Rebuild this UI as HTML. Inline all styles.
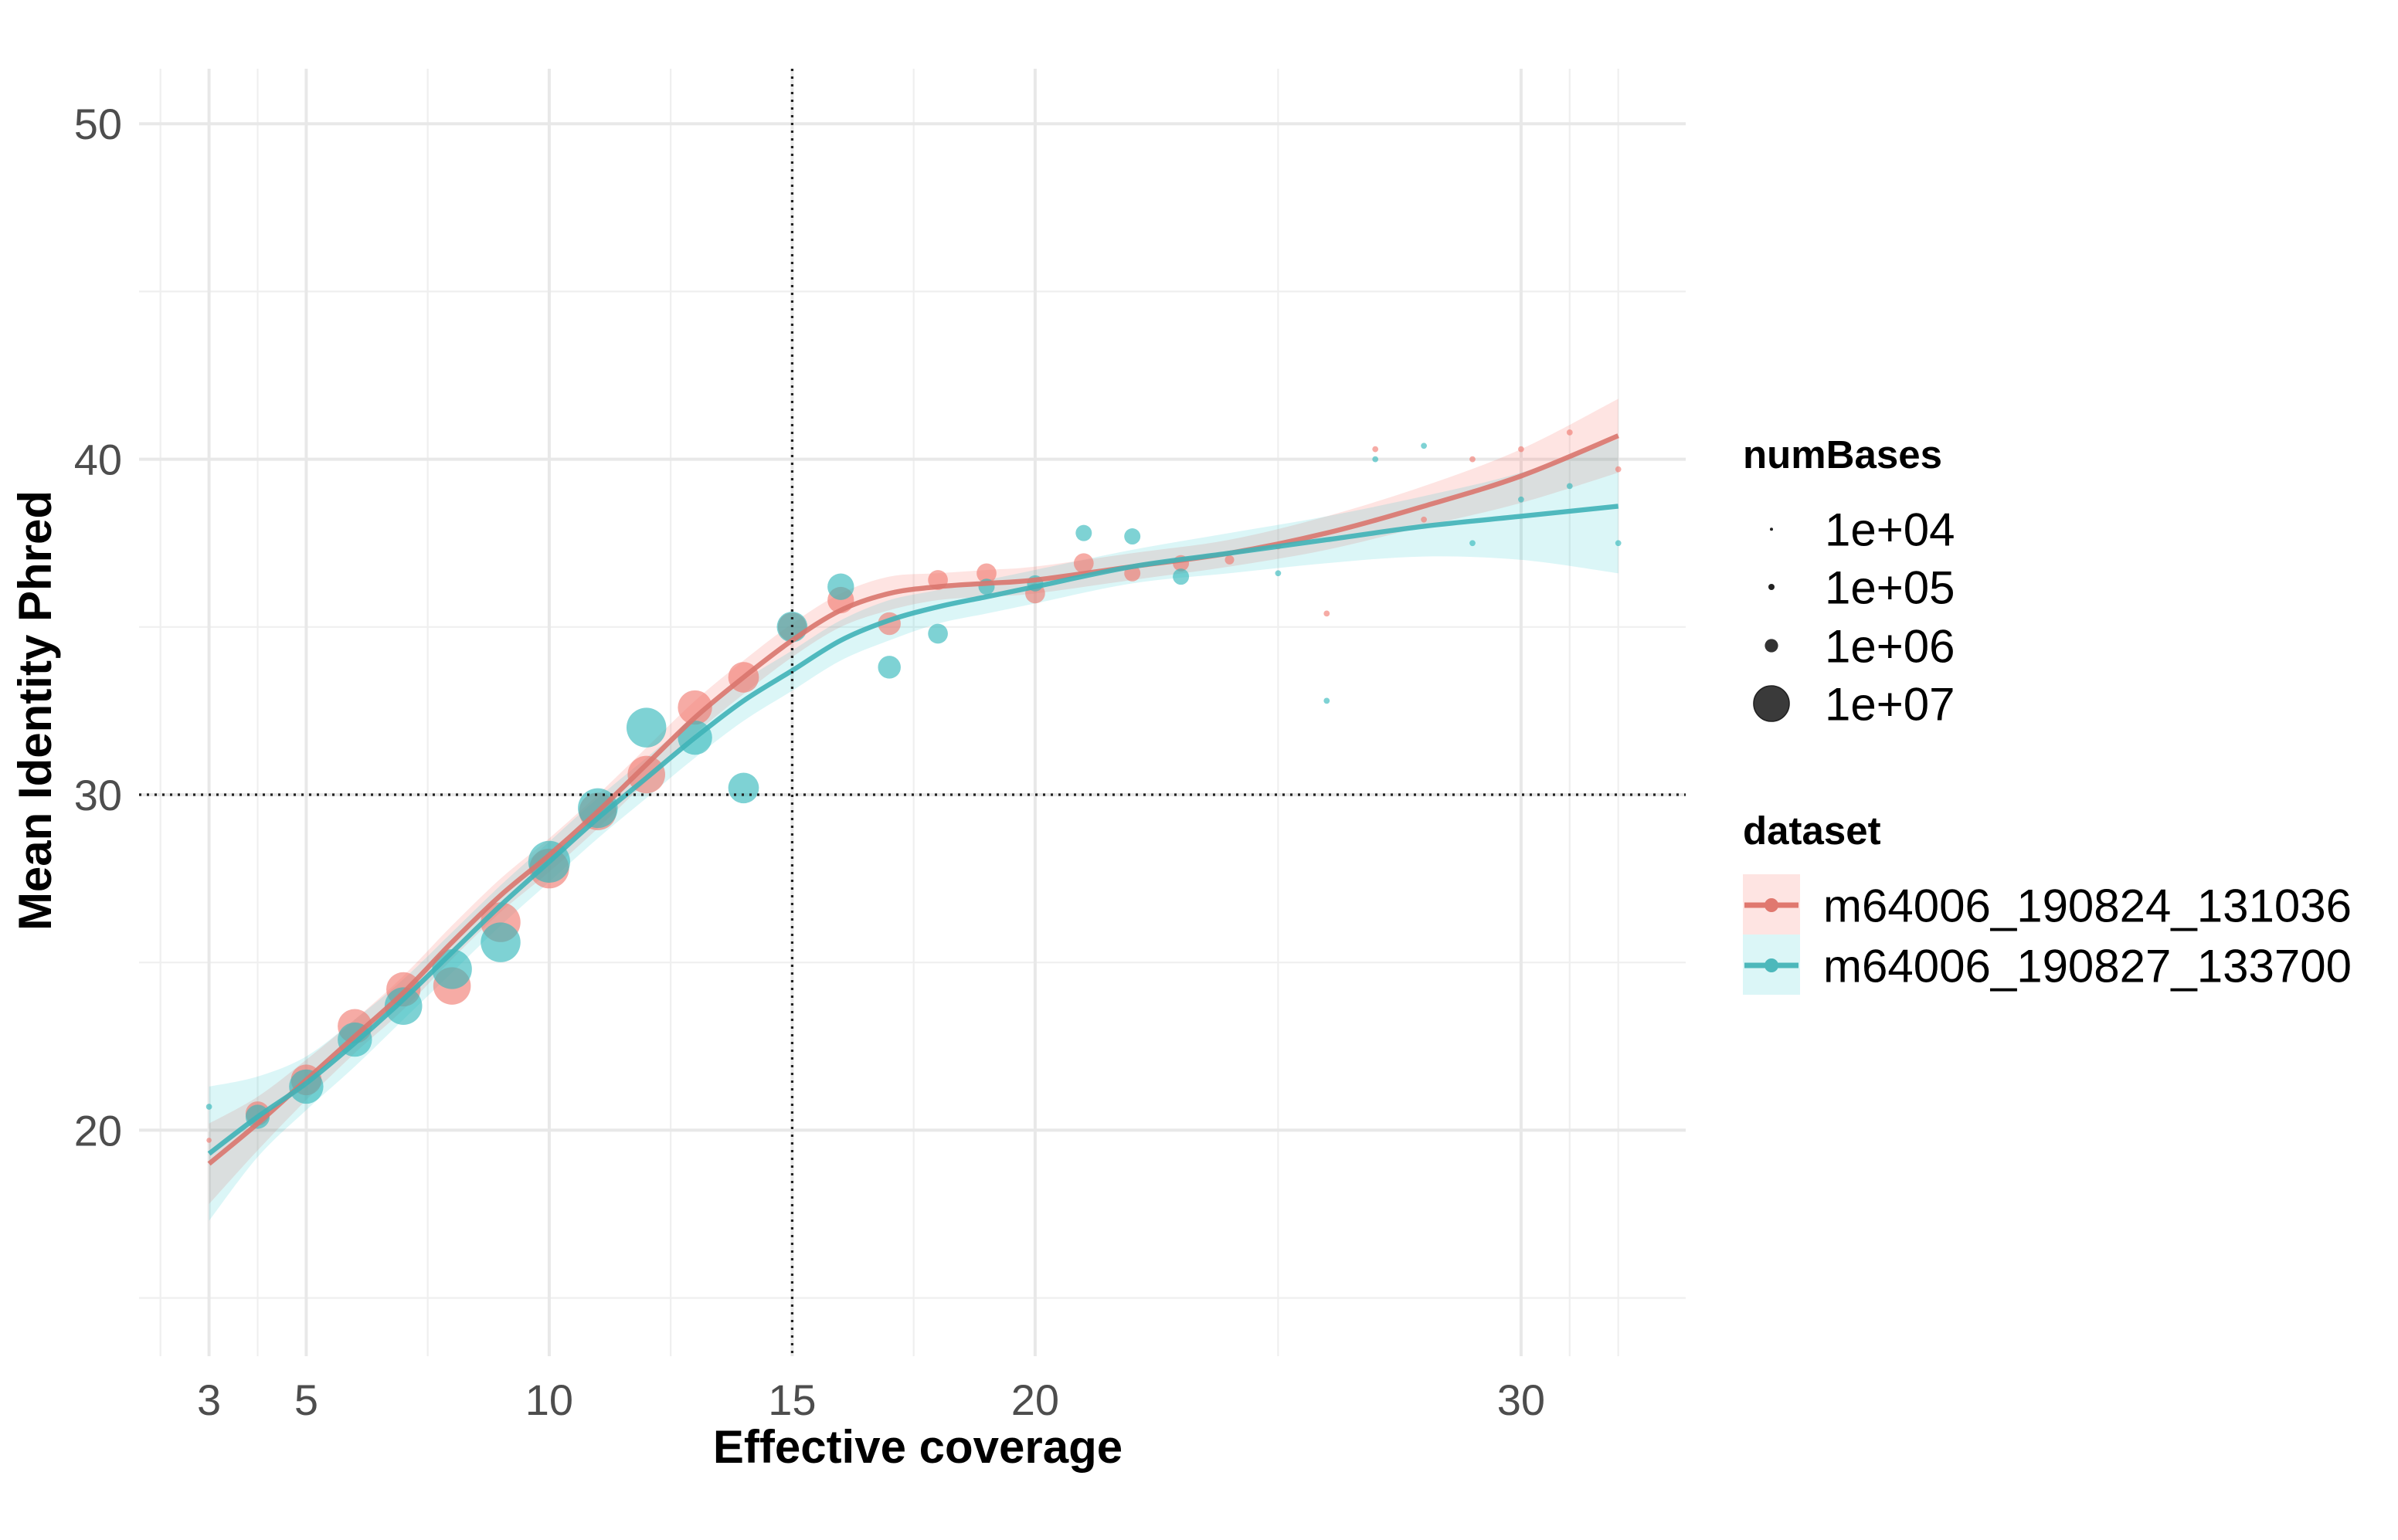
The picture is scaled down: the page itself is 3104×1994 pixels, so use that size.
<!DOCTYPE html>
<html><head><meta charset="utf-8"><style>
html,body{margin:0;padding:0;background:#fff;}
svg{display:block;font-family:"Liberation Sans",Arial,sans-serif;}
</style></head><body>
<svg id="chart" width="3104" height="1994" viewBox="0 0 1552 997" xmlns="http://www.w3.org/2000/svg">
<rect width="1552" height="997" fill="#fff"/>
<g id="grid"></g>
<g id="bands"></g>
<g id="points"></g>
<g id="lines"></g>
<g id="refs"></g>
<g id="axes"></g>
<text x="594" y="947" text-anchor="middle" font-size="30" font-weight="bold">Effective coverage</text>
<text transform="translate(33,460) rotate(-90)" text-anchor="middle" font-size="30" font-weight="bold">Mean Identity Phred</text>
<g>
<text x="1128" y="303" font-size="25.5" font-weight="bold">numBases</text>
<circle cx="1146.5" cy="342.6" r="1" fill="#222"/>
<text x="1181" y="353.3" font-size="30">1e+04</text>
<circle cx="1146.5" cy="380" r="2" fill="#222"/>
<text x="1181" y="390.7" font-size="30">1e+05</text>
<circle cx="1146.5" cy="418" r="4.3" fill="#333"/>
<text x="1181" y="428.7" font-size="30">1e+06</text>
<circle cx="1146.5" cy="455.5" r="11.5" fill="#3a3a3a" stroke="#222" stroke-width="0.8"/>
<text x="1181" y="466.2" font-size="30">1e+07</text>
</g>
<g>
<text x="1128" y="546.5" font-size="25.5" font-weight="bold">dataset</text>
<rect x="1128" y="566" width="37" height="39" fill="#F8766D" opacity="0.2"/>
<line x1="1129" y1="586" x2="1164" y2="586" stroke="#e0786f" stroke-width="3.5"/>
<circle cx="1146.5" cy="586" r="4.5" fill="#e0786f"/>
<text x="1180" y="596.7" font-size="30">m64006_190824_131036</text>
<rect x="1128" y="605" width="37" height="39" fill="#00BFC4" opacity="0.14"/>
<line x1="1129" y1="625" x2="1164" y2="625" stroke="#4db8bb" stroke-width="3.5"/>
<circle cx="1146.5" cy="625" r="4.5" fill="#4db8bb"/>
<text x="1180" y="635.7" font-size="30">m64006_190827_133700</text>
</g>
</svg>
<script>
const xTicks=[3,5,10,15,20,30];
const xMinor=[2,4,7.5,12.5,17.5,25,31,32];
const yTicks=[20,30,40,50];
const yMinor=[15,25,35,45];
const redX=[3,4,5,6,7,8,9,10,11,12,13,14,15,16,17,18,19,20,21,22,23,24,25,26,27,28,29,30,31,32];
const redY=[19.7,20.5,21.5,23.1,24.2,24.3,26.2,27.8,29.5,30.6,32.6,33.5,35.0,35.8,35.1,36.4,36.6,36.0,36.9,36.6,36.9,37.0,37.4,35.4,40.3,38.2,40.0,40.3,40.8,39.7];
const redN=[0.02,4,7,9,9,11,12.5,12.5,11,11,9,7,6,5,3.5,2.5,2.5,2.5,2.5,1.5,1.5,0.3,0.05,0.05,0.05,0.05,0.05,0.05,0.05,0.05];
const tealX=[3,4,5,6,7,8,9,10,11,12,13,14,15,16,17,18,19,20,21,22,23,25,26,27,28,29,30,31,32];
const tealY=[20.7,20.4,21.3,22.7,23.7,24.8,25.6,28.0,29.6,32.0,31.7,30.2,35.0,36.2,33.8,34.8,36.2,36.3,37.8,37.7,36.5,36.6,32.8,40.0,40.4,37.5,38.8,39.2,37.5];
const tealN=[0.05,4,9,9,11,12.5,12.5,14,12.5,12.5,9,7,7,5,3.5,2.5,1.5,1.5,1.5,1.5,1.5,0.05,0.05,0.05,0.05,0.05,0.05,0.05,0.05];
const fitX=[3,4,5,6,7,8,9,10,11,12,13,14,15,16,17,18,19,20,22,24,26,28,30,32];
const redFit=[19.0,20.2,21.5,22.8,24.1,25.6,27.0,28.2,29.5,30.9,32.3,33.5,34.6,35.5,36.0,36.2,36.3,36.4,36.8,37.2,37.8,38.6,39.5,40.7];
const redSe=[1.2,0.8,0.6,0.5,0.5,0.5,0.5,0.5,0.5,0.5,0.5,0.5,0.5,0.5,0.5,0.4,0.4,0.4,0.4,0.4,0.5,0.6,0.8,1.1];
const tealFit=[19.3,20.4,21.4,22.6,23.9,25.3,26.7,28.0,29.3,30.5,31.7,32.8,33.7,34.6,35.2,35.6,35.9,36.2,36.8,37.2,37.6,38.0,38.3,38.6];
const tealSe=[2.0,1.2,0.8,0.7,0.6,0.6,0.6,0.6,0.6,0.6,0.6,0.6,0.6,0.6,0.6,0.5,0.5,0.5,0.5,0.6,0.7,0.9,1.3,2.0];
const NS="http://www.w3.org/2000/svg";
const X=v=>135.3+(v-3)*31.45;
const Y=v=>731.7-(v-20)*21.72;
const L=90,R=1091,T=44.5,B=878;
function mk(t,a,p){const e=document.createElementNS(NS,t);for(const k in a)e.setAttribute(k,a[k]);p.appendChild(e);return e;}
function smooth(pts,move){let d=move?'M'+pts[0][0]+' '+pts[0][1]:' L'+pts[0][0]+' '+pts[0][1];
for(let i=0;i<pts.length-1;i++){const p0=pts[i-1]||pts[i],p1=pts[i],p2=pts[i+1],p3=pts[i+2]||p2;
d+=' C'+(p1[0]+(p2[0]-p0[0])/6)+' '+(p1[1]+(p2[1]-p0[1])/6)+' '+(p2[0]-(p3[0]-p1[0])/6)+' '+(p2[1]-(p3[1]-p1[1])/6)+' '+p2[0]+' '+p2[1];}
return d;}
const g=document.getElementById('grid');
xMinor.forEach(v=>{const e=mk('line',{x1:X(v),x2:X(v),y1:T,y2:B,stroke:'#efefef','stroke-width':1.1},g);

});
yMinor.forEach(v=>{const e=mk('line',{x1:L,x2:R,y1:Y(v),y2:Y(v),stroke:'#efefef','stroke-width':1.1},g);

});
xTicks.forEach(v=>{const e=mk('line',{x1:X(v),x2:X(v),y1:T,y2:B,stroke:'#e8e8e8','stroke-width':2},g);

});
yTicks.forEach(v=>{const e=mk('line',{x1:L,x2:R,y1:Y(v),y2:Y(v),stroke:'#e8e8e8','stroke-width':2},g);

});
const ax=document.getElementById('axes');
xTicks.forEach(v=>{const t=mk('text',{x:X(v),y:916,'text-anchor':'middle','font-size':28,fill:'#4d4d4d'},ax);t.textContent=v;

});
yTicks.forEach(v=>{const t=mk('text',{x:79,y:Y(v)+10,'text-anchor':'end','font-size':28,fill:'#4d4d4d'},ax);t.textContent=v;

});
const bands=document.getElementById('bands');
function band(fit,se,col,op,name){const up=fitX.map((x,i)=>[X(x),Y(fit[i]+se[i])]);const dn=fitX.map((x,i)=>[X(x),Y(fit[i]-se[i])]).reverse();
const p=mk('path',{d:smooth(up,true)+smooth(dn,false)+' Z',fill:col,opacity:op},bands);

}
band(redFit,redSe,'#F8766D',0.2,'red-confidence-band');
band(tealFit,tealSe,'#00BFC4',0.14,'teal-confidence-band');
const pts=document.getElementById('points');
const rad=n=>1.2+3.3*Math.sqrt(n);
function points(xs,ys,ns,col,name){xs.forEach((x,i)=>{const c=mk('circle',{cx:X(x),cy:Y(ys[i]),r:rad(ns[i]),fill:col,opacity:0.62},pts);

});}
points(redX,redY,redN,'#F0776D','red-point');
points(tealX,tealY,tealN,'#2fb6ba','teal-point');
const ln=document.getElementById('lines');
function curve(fit,col,name){const p=mk('path',{d:smooth(fitX.map((x,i)=>[X(x),Y(fit[i])]),true),fill:'none',stroke:col,'stroke-width':3.2,'stroke-linejoin':'round',opacity:0.9},ln);

}
curve(redFit,'#d9766e','red-fit-line');
curve(tealFit,'#3fb3b7','teal-fit-line');
const rf=document.getElementById('refs');
const v=mk('line',{x1:X(15),x2:X(15),y1:T,y2:B,stroke:'#222','stroke-width':1.6,'stroke-dasharray':'1.5 3.5'},rf);


const h=mk('line',{x1:L,x2:R,y1:Y(30),y2:Y(30),stroke:'#222','stroke-width':1.6,'stroke-dasharray':'1.5 3.5'},rf);


</script>
</body></html>
